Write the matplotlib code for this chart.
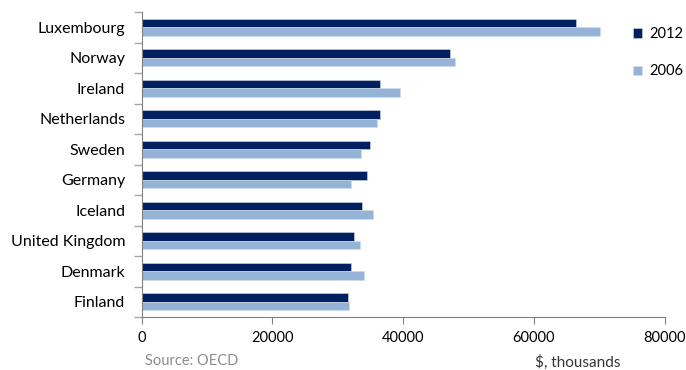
import matplotlib
matplotlib.use("Agg")
import matplotlib.pyplot as plt
import numpy as np

plt.rcParams['font.family'] = ['Lato', 'DejaVu Sans']

countries = ["Luxembourg", "Norway", "Ireland", "Netherlands", "Sweden",
             "Germany", "Iceland", "United Kingdom", "Denmark", "Finland"]
values_2012 = [66400, 47200, 36500, 36400, 34900, 34500, 33700, 32500, 32100, 31600]
values_2006 = [70100, 48000, 39600, 36000, 33600, 32100, 35400, 33400, 34000, 31700]
x_ticks = [0, 20000, 40000, 60000, 80000]

dark = "#002060"
light = "#95B3D7"
axis_grey = "#a6a6a6"

fig = plt.figure(figsize=(6.86, 3.70), dpi=100)
ax = fig.add_axes([141.7 / 686, 1 - 317 / 370, (664.5 - 141.7) / 686, (317 - 12) / 370])

pos = np.arange(len(countries))
h = 0.28
ax.barh(pos - h / 2, values_2012, height=h, color=dark, edgecolor="#d0dcea", linewidth=0.4, label="2012")
ax.barh(pos + h / 2, values_2006, height=h, color=light, edgecolor="#d0dcea", linewidth=0.4, label="2006")

ax.set_ylim(len(countries) - 0.5, -0.5)
ax.set_xlim(0, 80000)
ax.set_xticks(x_ticks)
ax.set_xticklabels([str(t) for t in x_ticks], fontsize=10.5)

ax.set_yticks(pos)
ax.set_yticklabels(countries, fontsize=11.5)
ax.tick_params(axis="y", length=0, pad=12)
# boundary ticks between categories
ax.set_yticks(np.arange(len(countries) + 1) - 0.5, minor=True)
ax.tick_params(axis="y", which="minor", length=6, color=axis_grey, width=1)
ax.tick_params(axis="x", length=5, color="#808080", direction="out", pad=5)

for side in ["top", "right"]:
    ax.spines[side].set_visible(False)
ax.spines["left"].set_color("#808080")
ax.spines["bottom"].set_color("#808080")

leg = ax.legend(loc="upper left", bbox_to_anchor=(620 / 686, 1 - 14 / 370),
                bbox_transform=fig.transFigure, frameon=False, fontsize=10.5,
                handlelength=0.6, handleheight=0.6, handletextpad=0.5, labelspacing=1.6)

fig.text(145 / 686, 1 - 361 / 370, "Source: OECD", fontsize=10.5, color="#8c8c8c", va="center")
fig.text(535 / 686, 1 - 362 / 370, "$, thousands", fontsize=11, color="#333333", va="center")

fig.savefig("out.png", dpi=100)
